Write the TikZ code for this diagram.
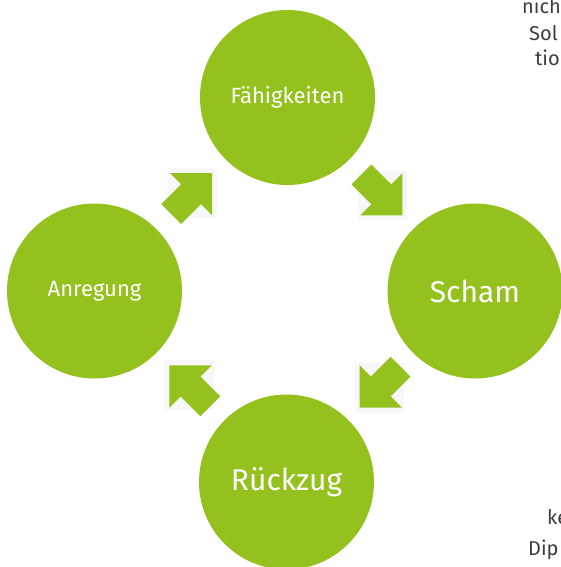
\documentclass[tikz,border=0pt]{standalone}
\usepackage{fontspec}
\setmainfont{Fira Sans}
\usepackage{tikz}
\usetikzlibrary{calc}
\definecolor{kreisgruen}{RGB}{149,193,31}
\definecolor{randtext}{RGB}{60,60,60}
\tikzset{
  kreis/.style={shape=circle,fill=kreisgruen,draw=none,minimum size=175pt,inner sep=0pt,text=white},
  pfeilfill/.style={fill=kreisgruen,draw=none},
  glanz/.style={fill=black!3,draw=none},
  randnode/.style={text=randtext,inner sep=0pt,anchor=base west,font=\fontsize{20}{24}\selectfont}
}
\newcommand{\kreisnode}[5]{\node[kreis,font=\fontsize{#4}{#4}\selectfont] (#1) at ( #2 , #3 ) {#5};}
\newcommand{\pfeil}[3]{
  \fill[glanz,shift={($(#1)!0.5!(#2)$)},rotate=#3] (-33,0) -- (2,-35) -- (37,0) -- (2,35) -- cycle;
  \fill[pfeilfill,shift={($(#1)!0.5!(#2)$)},rotate=#3] (30,0) -- (0,30) -- (0,14) -- (-28,14) -- (-28,-14) -- (0,-14) -- (0,-30) -- cycle;}

\begin{document}
\begin{tikzpicture}[x=1pt,y=-1pt]
        \useasboundingbox (0,0) rectangle (561,567);
        % text at right margin
        \node[randnode] (t1) at (522,14) {nich};
        \node[randnode] (t2) at (529,41) {Sol};
        \node[randnode] (t3) at (535,66) {tio};
        \node[randnode] (t4) at (547,524) {ke};
        \node[randnode] (t5) at (528,555) {Dip};
        % circles
        \kreisnode{faeh}{287.5}{97.5}{22}{Fähigkeiten}
        \kreisnode{scham}{475}{291}{30}{Scham}
        \kreisnode{rueck}{286.5}{482}{30}{Rückzug}
        \kreisnode{anr}{94.5}{291}{22}{Anregung}
        % arrows
        \pfeil{anr}{faeh}{45}
        \pfeil{faeh}{scham}{-45}
        \pfeil{scham}{rueck}{-135}
        \pfeil{rueck}{anr}{135}
    \end{tikzpicture}
\end{document}
